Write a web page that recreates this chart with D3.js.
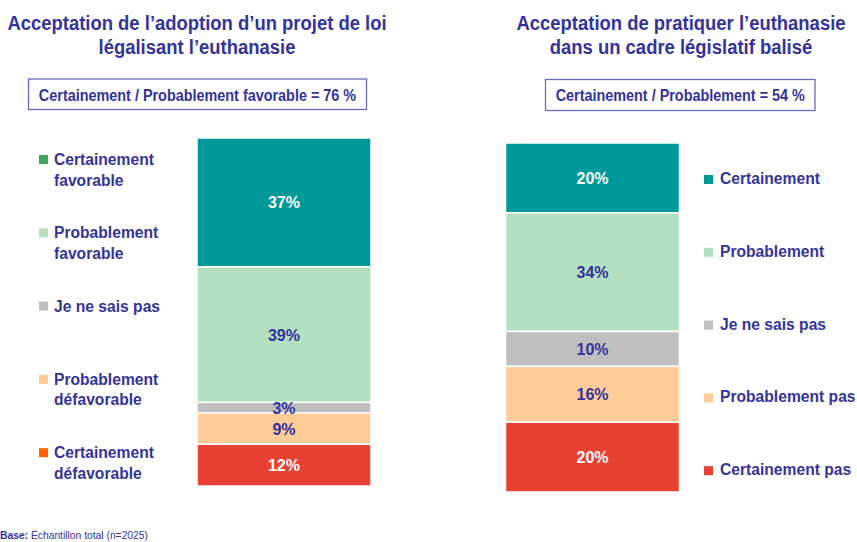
<!DOCTYPE html>
<html>
<head>
<meta charset="utf-8">
<script src="https://cdn.jsdelivr.net/npm/d3@7"></script>
<style>
  body { margin: 0; background: #fff; }
  svg { display: block; font-family: "Liberation Sans", Arial, sans-serif; }
</style>
</head>
<body>
<div id="viz"></div>
<script>
// data
const charts = ["adoption", "pratiquer"];
const titles = [
  ["Acceptation de l\u2019adoption d\u2019un projet de loi", "légalisant l\u2019euthanasie"],
  ["Acceptation de pratiquer l\u2019euthanasie", "dans un cadre législatif balisé"]
];
const boxTexts = ["Certainement / Probablement favorable = 76 %", "Certainement / Probablement = 54 %"];

const categoriesLeft = ["Certainement favorable", "Probablement favorable", "Je ne sais pas", "Probablement défavorable", "Certainement défavorable"];
const valuesLeft = [37, 39, 3, 9, 12];
const legendLeft = [["Certainement", "favorable"], ["Probablement", "favorable"], ["Je ne sais pas"], ["Probablement", "défavorable"], ["Certainement", "défavorable"]];

const categoriesRight = ["Certainement", "Probablement", "Je ne sais pas", "Probablement pas", "Certainement pas"];
const valuesRight = [20, 34, 10, 16, 20];

const barColors = ["#009999", "#b3e0c1", "#bfbfbf", "#ffcc99", "#e84133"];
const legendColorsLeft = ["#3fa55d", "#b3e0c1", "#bfbfbf", "#ffcc99", "#ff6600"];
const labelColors = ["#fff", "#333399", "#333399", "#333399", "#fff"];
const navy = "#333399";

const width = 857, height = 542;

const svg = d3.select("#viz").append("svg")
  .attr("width", width)
  .attr("height", height);

// narrow text: the source font is more condensed than Arial
function narrowText(parent, x, y, k, anchor) {
  return parent.append("text")
    .attr("transform", `translate(${x},${y}) scale(${k},1)`)
    .attr("text-anchor", anchor || "start");
}

const x = d3.scaleBand()
  .domain(charts)
  .range([197, 679.5])
  .paddingInner(0.436)
  .paddingOuter(0);

const yScales = {
  adoption: d3.scaleLinear().domain([0, 100]).range([138, 486]),
  pratiquer: d3.scaleLinear().domain([0, 100]).range([143, 492])
};

const centers = [197, 681];

charts.forEach((c, i) => {
  // titles
  titles[i].forEach((line, j) => {
    narrowText(svg, centers[i], 30 + j * 24, 0.9, "middle")
      .attr("font-size", "20.5px")
      .attr("font-weight", "bold")
      .attr("fill", navy)
      .text(line);
  });

  // summary box
  const bx = [[28.5, 366.5], [545.5, 815]][i];
  const by = [[79, 109.5], [79.5, 110.5]][i];
  svg.append("rect")
    .attr("x", bx[0]).attr("y", by[0])
    .attr("width", bx[1] - bx[0]).attr("height", by[1] - by[0])
    .attr("fill", "#fff")
    .attr("stroke", "#6b6bbd")
    .attr("stroke-width", 1.3);
  narrowText(svg, (bx[0] + bx[1]) / 2, 100.7, 0.9, "middle")
    .attr("font-size", "16px")
    .attr("font-weight", "bold")
    .attr("fill", navy)
    .text(boxTexts[i]);
});

// stacked bars
function drawBar(key, values) {
  const y = yScales[key];
  let acc = 0;
  const segs = values.map((v, i) => {
    const s = { i: i, v: v, y0: acc, y1: acc + v };
    acc += v;
    return s;
  });
  const g = svg.append("g").attr("class", "bar-" + key);
  g.selectAll("rect.seg")
    .data(segs).enter()
    .append("rect")
    .attr("class", "seg")
    .attr("x", x(key))
    .attr("width", x.bandwidth())
    .attr("y", d => y(d.y0))
    .attr("height", d => y(d.y1) - y(d.y0))
    .attr("fill", d => barColors[d.i])
    .attr("stroke", "#fff")
    .attr("stroke-width", 1.5);
  g.selectAll("text.lbl")
    .data(segs).enter()
    .append("text")
    .attr("class", "lbl")
    .attr("x", x(key) + x.bandwidth() / 2)
    .attr("y", d => (y(d.y0) + y(d.y1)) / 2 + 6)
    .attr("text-anchor", "middle")
    .attr("font-size", "16px")
    .attr("font-weight", "bold")
    .attr("fill", d => labelColors[d.i])
    .text(d => d.v + "%");
}
drawBar("adoption", valuesLeft);
drawBar("pratiquer", valuesRight);

// left legend
const legL = svg.append("g");
legendLeft.forEach((lines, i) => {
  const base = 165 + i * 73.3;
  legL.append("rect")
    .attr("x", 39).attr("y", base - 10)
    .attr("width", 9).attr("height", 9)
    .attr("fill", legendColorsLeft[i]);
  lines.forEach((ln, j) => {
    narrowText(legL, 54, base + j * 20.5, 0.92)
      .attr("font-size", "17px")
      .attr("font-weight", "bold")
      .attr("fill", navy)
      .text(ln);
  });
});

// right legend
const legR = svg.append("g");
categoriesRight.forEach((name, i) => {
  const base = 184 + i * 72.8;
  legR.append("rect")
    .attr("x", 704).attr("y", base - 9)
    .attr("width", 9).attr("height", 9)
    .attr("fill", barColors[i]);
  narrowText(legR, 720, base, 0.92)
    .attr("font-size", "17px")
    .attr("font-weight", "bold")
    .attr("fill", navy)
    .text(name);
});

// footer
const foot = svg.append("text")
  .attr("x", 0)
  .attr("y", 539)
  .attr("font-size", "10.3px")
  .attr("fill", navy);
foot.append("tspan").attr("font-weight", "bold").text("Base:");
foot.append("tspan").text(" Échantillon total (n=2025)");
</script>
</body>
</html>
